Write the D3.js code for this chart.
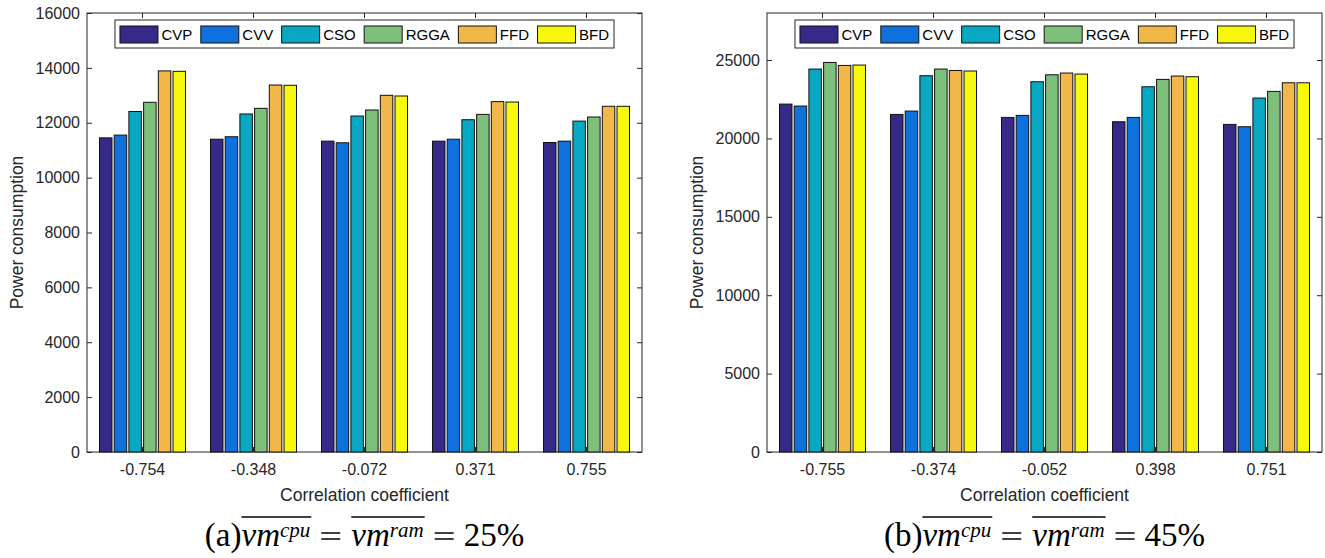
<!DOCTYPE html>
<html>
<head>
<meta charset="utf-8">
<script src="https://cdn.jsdelivr.net/npm/d3@7"></script>
<style>
  body { margin: 0; background: #fff; }
  svg { display: block; }
</style>
</head>
<body>
<svg id="chart" width="1325" height="558"></svg>
<script>
// methods and their bar colours (parula-like palette)
const methods = ["CVP", "CVV", "CSO", "RGGA", "FFD", "BFD"];
const colors = ["#352a87", "#0f72dc", "#08a8c3", "#7dbf7b", "#f1b749", "#f8f80f"];

// panel (a): avg cpu = avg ram = 25%
const coeffA = ["-0.754", "-0.348", "-0.072", "0.371", "0.755"];
const cvpA = [11450, 11400, 11330, 11330, 11280];
const cvvA = [11550, 11490, 11270, 11400, 11330];
const csoA = [12410, 12320, 12245, 12110, 12060];
const rggaA = [12745, 12525, 12465, 12305, 12210];
const ffdA = [13890, 13375, 13000, 12770, 12600];
const bfdA = [13875, 13365, 12975, 12755, 12600];
const ticksA = [0, 2000, 4000, 6000, 8000, 10000, 12000, 14000, 16000];

// panel (b): avg cpu = avg ram = 45%
const coeffB = ["-0.755", "-0.374", "-0.052", "0.398", "0.751"];
const cvpB = [22190, 21530, 21340, 21065, 20895];
const cvvB = [22065, 21745, 21470, 21340, 20745];
const csoB = [24425, 24000, 23615, 23295, 22575];
const rggaB = [24845, 24425, 24060, 23765, 23000];
const ffdB = [24655, 24335, 24170, 23980, 23550];
const bfdB = [24680, 24300, 24105, 23935, 23550];
const ticksB = [0, 5000, 10000, 15000, 20000, 25000];

const ink = "#262626";
const sans = "'Liberation Sans', Arial, Helvetica, sans-serif";
const serif = "'Liberation Serif', 'Times New Roman', serif";

const svg = d3.select("#chart");

const drawPanel = (opt) => {
    const { left, top, width, height, yMax, yTicks, coeffs, series, tag, pct } = opt;

    const g = svg.append("g").attr("transform", `translate(${left},${top})`);

    const x0 = d3.scaleBand()
        .domain(coeffs)
        .range([0, width])
        .paddingInner(0.225)
        .paddingOuter(0.1125);

    const x1 = d3.scaleBand()
        .domain(methods)
        .range([0, x0.bandwidth()])
        .paddingInner(0.15);

    const y = d3.scaleLinear().domain([0, yMax]).range([height, 0]);

    const color = d3.scaleOrdinal().domain(methods).range(colors);

    // axes first, so the bars sit on top of the ticks (like matlab)
    const styleAxis = (sel) => {
        sel.select(".domain").remove();
        sel.selectAll("line").attr("stroke", ink);
        sel.selectAll("text").attr("fill", ink);
        sel.attr("font-family", sans).attr("font-size", 16);
    };

    g.append("g")
        .call(d3.axisLeft(y).tickValues(yTicks).tickSize(-5).tickPadding(7).tickFormat(d3.format("d")))
        .call(styleAxis);

    g.append("g")
        .attr("transform", `translate(${width},0)`)
        .call(d3.axisRight(y).tickValues(yTicks).tickSize(-5).tickFormat(""))
        .call(styleAxis);

    g.append("g")
        .attr("transform", `translate(0,${height})`)
        .call(d3.axisBottom(x0).tickSize(-5).tickPadding(12))
        .call(styleAxis);

    g.append("g")
        .call(d3.axisTop(x0).tickSize(-5).tickFormat(""))
        .call(styleAxis);

    g.append("rect")
        .attr("width", width)
        .attr("height", height)
        .attr("fill", "none")
        .attr("stroke", ink)
        .attr("stroke-width", 1);

    // grouped bars
    const rows = coeffs.map((c, i) => ({ coeff: c, values: methods.map((m, j) => ({ method: m, value: series[j][i] })) }));

    g.selectAll(".group")
        .data(rows)
        .enter()
        .append("g")
        .attr("class", "group")
        .attr("transform", (d) => `translate(${x0(d.coeff)},0)`)
        .selectAll("rect")
        .data((d) => d.values)
        .enter()
        .append("rect")
        .attr("x", (d) => x1(d.method))
        .attr("y", (d) => y(d.value))
        .attr("width", x1.bandwidth())
        .attr("height", (d) => height - y(d.value))
        .attr("fill", (d) => color(d.method))
        .attr("stroke", "#111")
        .attr("stroke-width", 1);

    // axis titles
    svg.append("text")
        .attr("x", left + width / 2)
        .attr("y", top + height + 49)
        .attr("text-anchor", "middle")
        .attr("font-family", sans)
        .attr("font-size", 17.5)
        .attr("fill", ink)
        .text("Correlation coefficient");

    svg.append("text")
        .attr("transform", `translate(${left - 64},${top + height / 2}) rotate(-90)`)
        .attr("text-anchor", "middle")
        .attr("font-family", sans)
        .attr("font-size", 17.5)
        .attr("fill", ink)
        .text("Power consumption");

    // legend: one row, centred at the top of the axes
    const legend = g.append("g").attr("transform", `translate(0,7)`);
    const box = legend.append("rect")
        .attr("height", 28)
        .attr("fill", "#fff")
        .attr("stroke", ink)
        .attr("stroke-width", 1);

    let lx = 5;
    methods.forEach((m, i) => {
        legend.append("rect")
            .attr("x", lx)
            .attr("y", 6)
            .attr("width", 38)
            .attr("height", 17)
            .attr("fill", colors[i])
            .attr("stroke", "#111")
            .attr("stroke-width", 1);
        const t = legend.append("text")
            .attr("x", lx + 41.5)
            .attr("y", 20)
            .attr("font-family", sans)
            .attr("font-size", 15)
            .attr("fill", "#000")
            .text(m);
        const w = t.node().getComputedTextLength();
        lx += 41.5 + w + (i < methods.length - 1 ? 8.5 : 5);
    });
    box.attr("width", lx);
    legend.attr("transform", `translate(${(width - lx) / 2},7)`);

    // caption under the panel, e.g. (a) vm^cpu (overline) = vm^ram (overline) = 25%
    const cap = svg.append("g");
    const base = 546;
    let cx = 0;
    const piece = (txt, size, italic, raise) => {
        const el = cap.append("text")
            .attr("x", cx)
            .attr("y", base - raise)
            .attr("font-family", serif)
            .attr("font-size", size)
            .attr("font-style", italic ? "italic" : "normal")
            .attr("fill", "#000")
            .text(txt);
        const w = el.node().getComputedTextLength();
        cx += w;
        return w;
    };
    const over = (x0, x1) => {
        cap.append("line")
            .attr("x1", x0).attr("x2", x1)
            .attr("y1", base - 29).attr("y2", base - 29)
            .attr("stroke", "#000")
            .attr("stroke-width", 1.4);
    };
    // wide math equals sign
    const equals = () => {
        [-13, -7].forEach((dy) => {
            cap.append("line")
                .attr("x1", cx).attr("x2", cx + 19)
                .attr("y1", base + dy).attr("y2", base + dy)
                .attr("stroke", "#000")
                .attr("stroke-width", 1.5);
        });
        cx += 19;
    };

    piece(tag, 33, false, 0);
    let s = cx;
    piece("vm", 33, true, 0);
    piece("cpu", 21, true, 9);
    over(s, cx + 1);
    cx += 11;
    equals();
    cx += 11;
    s = cx;
    piece("vm", 33, true, 0);
    piece("ram", 21, true, 9);
    over(s, cx + 1);
    cx += 11;
    equals();
    cx += 10;
    piece(pct, 33, false, 0);
    cap.attr("transform", `translate(${left + width / 2 - cx / 2},0)`);
};

drawPanel({
    left: 87, top: 13, width: 555, height: 439,
    yMax: 16000, yTicks: ticksA, coeffs: coeffA,
    series: [cvpA, cvvA, csoA, rggaA, ffdA, bfdA],
    tag: "(a)", pct: "25%"
});

drawPanel({
    left: 767, top: 13, width: 555, height: 439,
    yMax: 28000, yTicks: ticksB, coeffs: coeffB,
    series: [cvpB, cvvB, csoB, rggaB, ffdB, bfdB],
    tag: "(b)", pct: "45%"
});
</script>
</body>
</html>
